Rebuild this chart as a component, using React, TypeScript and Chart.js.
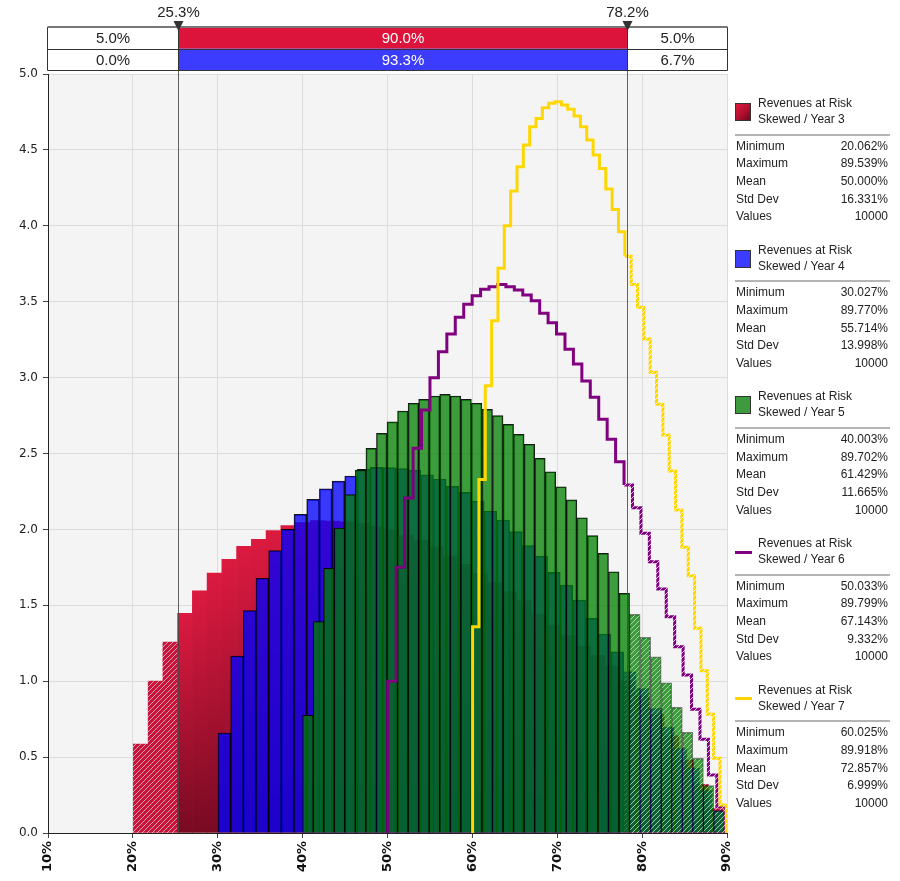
import React, { useEffect, useRef } from 'react';
import { Chart, registerables } from 'chart.js';

Chart.register(...registerables);

// ---------- data ----------
const X_TICK_MIN = 10;
const X_TICK_MAX = 90;
const X_TICK_STEP = 10;
const Y_TICK_MIN = 0;
const Y_TICK_MAX = 5;
const Y_TICK_STEP = 0.5;

const SERIES_TITLE = 'Revenues at Risk';
const SERIES_NAMES = ['Skewed / Year 3', 'Skewed / Year 4', 'Skewed / Year 5', 'Skewed / Year 6', 'Skewed / Year 7'];
const STAT_LABELS = ['Minimum', 'Maximum', 'Mean', 'Std Dev', 'Values'];
const STAT_MIN = ['20.062%', '30.027%', '40.003%', '50.033%', '60.025%'];
const STAT_MAX = ['89.539%', '89.770%', '89.702%', '89.799%', '89.918%'];
const STAT_MEAN = ['50.000%', '55.714%', '61.429%', '67.143%', '72.857%'];
const STAT_SD = ['16.331%', '13.998%', '11.665%', '9.332%', '6.999%'];
const STAT_N = ['10000', '10000', '10000', '10000', '10000'];

// histogram ranges (bin edges span min..max of each series)
const BIN_START = [20.062, 30.027, 40.003, 50.033, 60.025];
const BIN_END = [89.539, 89.770, 89.702, 89.799, 89.918];

const DENS_Y3 = [0.586, 1.001, 1.258, 1.447, 1.596, 1.713, 1.803, 1.889, 1.935, 1.992,
  2.025, 2.045, 2.058, 2.055, 2.05, 2.04, 2.02, 1.995, 1.96, 1.93,
  1.886, 1.825, 1.77, 1.71, 1.65, 1.59, 1.53, 1.44, 1.37, 1.3,
  1.23, 1.17, 1.1, 1.0, 0.9, 0.78, 0.64, 0.48, 0.32, 0.16];
const DENS_Y4 = [0.659, 1.166, 1.465, 1.678, 1.86, 2.0, 2.099, 2.198, 2.267, 2.318,
  2.352, 2.395, 2.409, 2.407, 2.4, 2.39, 2.36, 2.332, 2.284, 2.244,
  2.187, 2.121, 2.062, 1.985, 1.893, 1.825, 1.717, 1.634, 1.535, 1.414,
  1.311, 1.194, 1.063, 0.953, 0.823, 0.7, 0.56, 0.43, 0.283, 0.15];
const DENS_Y5 = [0.775, 1.392, 1.744, 2.008, 2.229, 2.391, 2.534, 2.633, 2.708, 2.78,
  2.831, 2.857, 2.879, 2.89, 2.879, 2.857, 2.831, 2.791, 2.749, 2.692,
  2.626, 2.561, 2.468, 2.38, 2.281, 2.194, 2.077, 1.959, 1.842, 1.721,
  1.579, 1.44, 1.289, 1.161, 0.99, 0.828, 0.663, 0.492, 0.312, 0.145];
const DENS_Y6 = [1.0, 1.75, 2.207, 2.534, 2.787, 2.999, 3.171, 3.287, 3.397, 3.483,
  3.54, 3.582, 3.599, 3.614, 3.599, 3.577, 3.544, 3.507, 3.424, 3.362,
  3.287, 3.186, 3.09, 2.978, 2.87, 2.725, 2.594, 2.446, 2.293, 2.143,
  1.974, 1.787, 1.607, 1.425, 1.227, 1.041, 0.815, 0.617, 0.382, 0.173];
const DENS_Y7 = [1.359, 2.329, 2.947, 3.375, 3.72, 4.001, 4.229, 4.389, 4.532, 4.652,
  4.707, 4.778, 4.807, 4.818, 4.796, 4.767, 4.723, 4.652, 4.565, 4.466,
  4.378, 4.242, 4.108, 3.961, 3.8, 3.614, 3.463, 3.254, 3.035, 2.824,
  2.622, 2.385, 2.128, 1.882, 1.695, 1.348, 1.069, 0.782, 0.492, 0.184];

const MARKERS = [25.3, 78.2];
const MARKER_LABELS = ['25.3%', '78.2%'];
const ROW_Y3 = ['5.0%', '90.0%', '5.0%'];
const ROW_Y4 = ['0.0%', '93.3%', '6.7%'];

// ---------- styles ----------
const RED = '#c8143a';
const BLUE = 'rgba(0,0,255,0.77)';
const GREEN = 'rgba(0,128,0,0.75)';
const PURPLE = '#800080';
const YELLOW = '#ffd700';
const FONT = '"Liberation Sans", Arial, sans-serif';

function barPoints(start: number, end: number, dens: number[]) {
  const w = (end - start) / dens.length;
  return dens.map((h, i) => ({ x: start + (i + 0.5) * w, y: h }));
}

function stepPoints(start: number, end: number, dens: number[]) {
  const w = (end - start) / dens.length;
  const pts = [{ x: start, y: 0 }];
  dens.forEach((h, i) => pts.push({ x: start + i * w, y: h }));
  pts.push({ x: end, y: 0 });
  return pts;
}

const inTail = (x: number) => x < MARKERS[0] || x > MARKERS[1];

const bgPlugin = {
  id: 'plotBg',
  beforeDraw(chart: any) {
    const { ctx, chartArea: a } = chart;
    ctx.save();
    ctx.fillStyle = '#ffffff';
    ctx.fillRect(0, 0, chart.width, chart.height);
    ctx.fillStyle = '#f4f4f4';
    ctx.fillRect(a.left, a.top, a.right - a.left, a.bottom - a.top);
    ctx.restore();
  },
};

const tablePlugin = {
  id: 'riskTable',
  afterDraw(chart: any) {
    const { ctx, chartArea: a, scales } = chart;
    const x = scales.x;
    const L = Math.round(a.left) - 0.5;
    const R = Math.round(a.right) + 0.5;
    const p1 = Math.round(x.getPixelForValue(MARKERS[0])) + 0.5;
    const p2 = Math.round(x.getPixelForValue(MARKERS[1])) + 0.5;
    const top0 = 27;
    const rh = 21.7;
    ctx.save();
    // marker lines through the plot
    ctx.strokeStyle = 'rgba(70,70,70,0.85)';
    ctx.lineWidth = 1;
    [p1, p2].forEach((p) => {
      ctx.beginPath();
      ctx.moveTo(p, top0);
      ctx.lineTo(p, a.bottom);
      ctx.stroke();
    });
    const rows = [
      { cells: ROW_Y3, fill: '#dc143c' },
      { cells: ROW_Y4, fill: '#3c3cff' },
    ];
    ctx.font = '15px ' + FONT;
    ctx.textAlign = 'center';
    ctx.textBaseline = 'middle';
    rows.forEach((r, i) => {
      const y0 = top0 + i * rh;
      ctx.fillStyle = '#ffffff';
      ctx.fillRect(L, y0, p1 - L, rh);
      ctx.fillRect(p2, y0, R - p2, rh);
      ctx.fillStyle = r.fill;
      ctx.fillRect(p1, y0, p2 - p1, rh);
      const cy = y0 + rh / 2 + 1;
      ctx.fillStyle = '#222';
      ctx.fillText(r.cells[0], (L + p1) / 2, cy);
      ctx.fillText(r.cells[2], (p2 + R) / 2, cy);
      ctx.fillStyle = '#ffffff';
      ctx.fillText(r.cells[1], (p1 + p2) / 2, cy);
    });
    ctx.strokeStyle = '#333';
    ctx.lineWidth = 1;
    ctx.beginPath();
    [top0 + rh, top0 + 2 * rh].forEach((yy) => {
      const y = Math.round(yy) + 0.5;
      ctx.moveTo(L, y);
      ctx.lineTo(R, y);
    });
    [L, p1, p2, R].forEach((xx) => {
      ctx.moveTo(xx, top0);
      ctx.lineTo(xx, Math.round(top0 + 2 * rh) + 0.5);
    });
    ctx.stroke();
    ctx.strokeStyle = '#777';
    ctx.lineWidth = 2;
    ctx.beginPath();
    ctx.moveTo(L, top0);
    ctx.lineTo(R, top0);
    ctx.stroke();
    // marker labels and triangles
    ctx.fillStyle = '#222';
    ctx.font = '15px ' + FONT;
    [p1, p2].forEach((p, i) => {
      ctx.fillText(MARKER_LABELS[i], p, 13);
      ctx.beginPath();
      ctx.moveTo(p - 5, 21);
      ctx.lineTo(p + 5, 21);
      ctx.lineTo(p, 31);
      ctx.closePath();
      ctx.fillStyle = '#333';
      ctx.fill();
      ctx.fillStyle = '#222';
    });
    ctx.restore();
  },
};

function LegendEntry({ i }: { i: number }) {
  const top = 95 + i * 146.7;
  const isLine = i >= 3;
  let swatch: any;
  if (isLine) {
    swatch = <div style={{ position: 'absolute', left: 0, top: 15.5, width: 17, height: 3, background: i === 3 ? PURPLE : YELLOW }} />;
  } else {
    const bg = i === 0
      ? 'linear-gradient(135deg, #e0183f 0%, #b00f30 55%, #6e0820 100%)'
      : i === 1 ? '#3c3cff' : '#3d9b3d';
    swatch = <div style={{ position: 'absolute', left: 0, top: 8, width: 16, height: 18, boxSizing: 'border-box', border: '1px solid #333', background: bg }} />;
  }
  const vals = [STAT_MIN[i], STAT_MAX[i], STAT_MEAN[i], STAT_SD[i], STAT_N[i]];
  return (
    <div style={{ position: 'absolute', left: 0, top, width: 155, height: 140 }}>
      {swatch}
      <div style={{ position: 'absolute', left: 23, top: 0, lineHeight: '16px', whiteSpace: 'nowrap' }}>
        <div>{SERIES_TITLE}</div>
        <div>{SERIES_NAMES[i]}</div>
      </div>
      <div style={{ position: 'absolute', left: 0, top: 38.7, width: 155, height: 2, background: '#b4b4b4' }} />
      {STAT_LABELS.map((lab, k) => (
        <div key={lab} style={{ position: 'absolute', left: 1, top: 42.5 + k * 17.7, width: 152, height: 17.7, lineHeight: '17.7px', display: 'flex', justifyContent: 'space-between' }}>
          <span>{lab}</span>
          <span>{vals[k]}</span>
        </div>
      ))}
    </div>
  );
}

export default function App() {
  const ref = useRef<HTMLCanvasElement>(null);

  useEffect(() => {
    const canvas = ref.current;
    if (!canvas) return;
    const c2d = canvas.getContext('2d') as CanvasRenderingContext2D;

    const hatch = (fill: string, stripe: string) => {
      const t = document.createElement('canvas');
      t.width = 5;
      t.height = 5;
      const g = t.getContext('2d') as CanvasRenderingContext2D;
      g.fillStyle = fill;
      g.fillRect(0, 0, 5, 5);
      g.strokeStyle = stripe;
      g.lineWidth = 1;
      g.beginPath();
      g.moveTo(0, 5); g.lineTo(5, 0);
      g.moveTo(-1, 1); g.lineTo(1, -1);
      g.moveTo(4, 6); g.lineTo(6, 4);
      g.stroke();
      return c2d.createPattern(t, 'repeat') as CanvasPattern;
    };

    const redHatch = hatch(RED, 'rgba(255,255,255,0.6)');
    const blueHatch = hatch(BLUE, 'rgba(255,255,255,0.55)');
    const greenHatch = hatch(GREEN, 'rgba(255,255,255,0.55)');
    const purpleHatch = hatch(PURPLE, 'rgba(255,255,255,0.75)');
    const yellowHatch = hatch(YELLOW, 'rgba(255,255,255,0.8)');

    const thickness = (k: number) => (ctx: any) => {
      const xs = ctx.chart.scales.x;
      const w = (BIN_END[k] - BIN_START[k]) / DENS_Y3.length;
      const px = Math.abs(xs.getPixelForValue(X_TICK_MIN + w) - xs.getPixelForValue(X_TICK_MIN));
      return isFinite(px) && px > 0 ? px : 10;
    };

    const redFill = (ctx: any) => {
      if (ctx.type !== 'data') return RED;
      const raw = ctx.raw as any;
      if (inTail(raw.x)) return redHatch;
      const chart = ctx.chart;
      const a = chart.chartArea;
      if (!a) return RED;
      const top = chart.scales.y.getPixelForValue(raw.y);
      const g = chart.ctx.createLinearGradient(0, top, 0, a.bottom);
      g.addColorStop(0, '#dc1a40');
      g.addColorStop(1, '#780a22');
      return g;
    };

    const tailFill = (solid: string, pat: CanvasPattern) => (ctx: any) =>
      ctx.type === 'data' && inTail((ctx.raw as any).x) ? pat : solid;
    const tailBorder = (ctx: any) =>
      ctx.type === 'data' && inTail((ctx.raw as any).x) ? 'rgba(0,0,0,0.5)' : 'rgba(0,0,0,0.9)';

    const lineSeg = (pat: CanvasPattern) => ({
      borderColor: (ctx: any) => ((ctx.p0.parsed.x + ctx.p1.parsed.x) / 2 > MARKERS[1] ? pat : undefined),
    });

    const chart = new Chart(canvas, {
      type: 'bar',
      data: {
        datasets: [
          {
            type: 'bar',
            label: SERIES_NAMES[0],
            data: barPoints(BIN_START[0], BIN_END[0], DENS_Y3),
            backgroundColor: redFill,
            borderWidth: 0,
            stack: 'h',
            order: 5,
            barThickness: thickness(0),
          } as any,
          {
            type: 'bar',
            label: SERIES_NAMES[1],
            data: barPoints(BIN_START[1], BIN_END[1], DENS_Y4),
            backgroundColor: tailFill(BLUE, blueHatch),
            borderColor: tailBorder,
            borderWidth: 1,
            stack: 'h',
            order: 4,
            barThickness: thickness(1),
          } as any,
          {
            type: 'bar',
            label: SERIES_NAMES[2],
            data: barPoints(BIN_START[2], BIN_END[2], DENS_Y5),
            backgroundColor: tailFill(GREEN, greenHatch),
            borderColor: tailBorder,
            borderWidth: 1,
            stack: 'h',
            order: 3,
            barThickness: thickness(2),
          } as any,
          {
            type: 'line',
            label: SERIES_NAMES[3],
            data: stepPoints(BIN_START[3], BIN_END[3], DENS_Y6),
            borderColor: PURPLE,
            borderWidth: 3,
            stepped: true,
            fill: false,
            pointRadius: 0,
            borderJoinStyle: 'miter',
            order: 2,
            segment: lineSeg(purpleHatch),
          } as any,
          {
            type: 'line',
            label: SERIES_NAMES[4],
            data: stepPoints(BIN_START[4], BIN_END[4], DENS_Y7),
            borderColor: YELLOW,
            borderWidth: 3,
            stepped: true,
            fill: false,
            pointRadius: 0,
            borderJoinStyle: 'miter',
            order: 1,
            segment: lineSeg(yellowHatch),
          } as any,
        ],
      },
      options: {
        responsive: false,
        animation: false,
        devicePixelRatio: 1,
        events: [],
        layout: { padding: { top: 74, right: 173, bottom: 0, left: 0 } },
        plugins: { legend: { display: false }, tooltip: { enabled: false } },
        scales: {
          x: {
            type: 'linear',
            min: X_TICK_MIN,
            max: X_TICK_MAX,
            offset: false,
            grid: { offset: false, color: '#dcdcdc', tickColor: '#444', tickLength: 5 },
            border: { color: '#222', z: 1 },
            ticks: {
              stepSize: X_TICK_STEP,
              autoSkip: false,
              minRotation: 90,
              maxRotation: 90,
              padding: 3,
              color: '#111',
              font: { family: 'DejaVu Sans', size: 13, weight: 'bold' },
              callback: (v: any) => v + '%',
            },
            afterFit: (s: any) => { s.height = 48; },
          },
          y: {
            type: 'linear',
            min: Y_TICK_MIN,
            max: Y_TICK_MAX,
            stacked: false,
            grid: { color: '#dcdcdc', tickColor: '#444', tickLength: 5 },
            border: { color: '#222', z: 1 },
            ticks: {
              stepSize: Y_TICK_STEP,
              padding: 5,
              color: '#222',
              font: { family: 'DejaVu Sans', size: 12 },
              callback: (v: any) => Number(v).toFixed(1),
            },
            afterFit: (s: any) => { s.width = 48; },
          },
        },
      } as any,
      plugins: [bgPlugin, tablePlugin],
    });

    return () => chart.destroy();
  }, []);

  return (
    <div style={{ position: 'absolute', left: 0, top: 0, width: 900, height: 881, background: '#fff', overflow: 'hidden' }}>
      <canvas ref={ref} width={900} height={881} style={{ position: 'absolute', left: 0, top: 0, width: 900, height: 881 }} />
      <div style={{ position: 'absolute', left: 735, top: 0, width: 155, height: 881, fontFamily: FONT, fontSize: 12, color: '#222' }}>
        {SERIES_NAMES.map((n, i) => <LegendEntry key={n} i={i} />)}
      </div>
    </div>
  );
}
